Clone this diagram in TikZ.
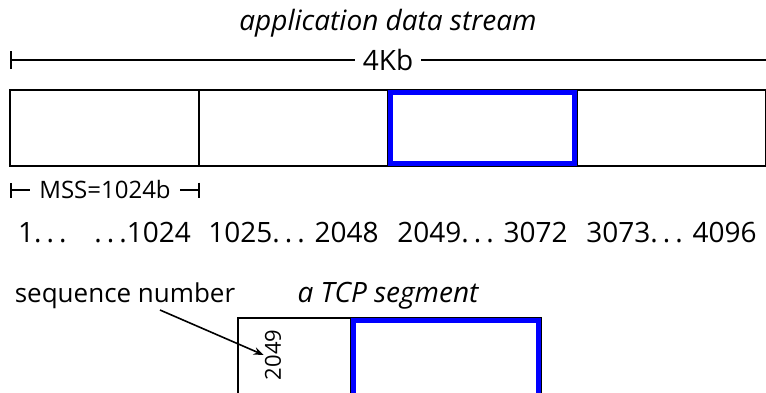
\documentclass[tikz,border=0pt]{standalone}
\usepackage{fontspec}
\setmainfont{Open Sans}
\usetikzlibrary{arrows.meta}

\newcommand{\dotsx}{.\kern.18em.\kern.18em.}

\tikzset{
  cell/.style={draw, line width=2pt, minimum width=189pt, minimum height=76pt, inner sep=0pt},
  hl/.style={draw=blue, line width=5pt, minimum width=184pt, minimum height=71pt, inner sep=0pt},
  lbl/.style={inner sep=0pt, anchor=base, font=\fontsize{28}{32}\selectfont},
  dim/.style={line width=2pt},
}

\begin{document}
\begin{tikzpicture}[x=1pt,y=-1pt]
        \useasboundingbox (0,0) rectangle (766,392);

        % the stream
        \node[lbl, font=\fontsize{28}{32}\selectfont\itshape] (title) at (388,30) {application data stream};
        \node[lbl, inner xsep=8pt] (kb) at (388,70) {4Kb};
        \coordinate (kbl) at (10,60);
        \coordinate (kbr) at (780,60);
        \draw[dim, {Bar[width=18pt]}-] (kbl) -- (kbl -| kb.west);
        \draw[dim] (kbr) -- (kbr -| kb.east);

        \node[cell] (s1) at (104.5,128) {};
        \node[cell] (s2) at (293.5,128) {};
        \node[cell] (s3) at (482.5,128) {};
        \node[cell] (s4) at (671.5,128) {};
        \node[hl] (hl) at (s3) {};

        % segment size
        \node[lbl, inner xsep=9pt, font=\fontsize{24}{28}\selectfont] (mss) at (105,198) {MSS=1024b};
        \coordinate (mssl) at (10,190);
        \coordinate (mssr) at (200,190);
        \draw[dim, {Bar[width=15pt]}-] (mssl) -- (mssl -| mss.west);
        \draw[dim, {Bar[width=15pt]}-] (mssr) -- (mssr -| mss.east);

        % byte numbers
        \node[lbl] (n1) at (s1 |- 0,242) {1\dotsx\quad\dotsx1024};
        \node[lbl] (n2) at (s2 |- 0,242) {1025\dotsx{} 2048};
        \node[lbl] (n3) at (s3 |- 0,242) {2049\dotsx{} 3072};
        \node[lbl] (n4) at (s4 |- 0,242) {3073\dotsx{} 4096};

        % one segment
        \node[lbl, font=\fontsize{26}{30}\selectfont] (seq) at (125,302) {sequence number};
        \node[lbl, font=\fontsize{28}{32}\selectfont\itshape] (tcp) at (388,302) {a TCP segment};
        \node[cell, minimum width=113pt, minimum height=90pt] (hdr) at (294.5,363) {};
        \node[cell, minimum width=190pt, minimum height=90pt] (body) at (446,363) {};
        \node[hl, minimum width=185pt, minimum height=85pt] (bodyhl) at (body) {};
        \node[inner sep=1pt, rotate=90, font=\fontsize{22}{26}\selectfont] (num) at (273,355) {2049};
        \coordinate (seqfoot) at (160,310);
        \draw[line width=1.6pt, -{Stealth[length=10pt]}] (seqfoot) -- (num.north);
\end{tikzpicture}
\end{document}
